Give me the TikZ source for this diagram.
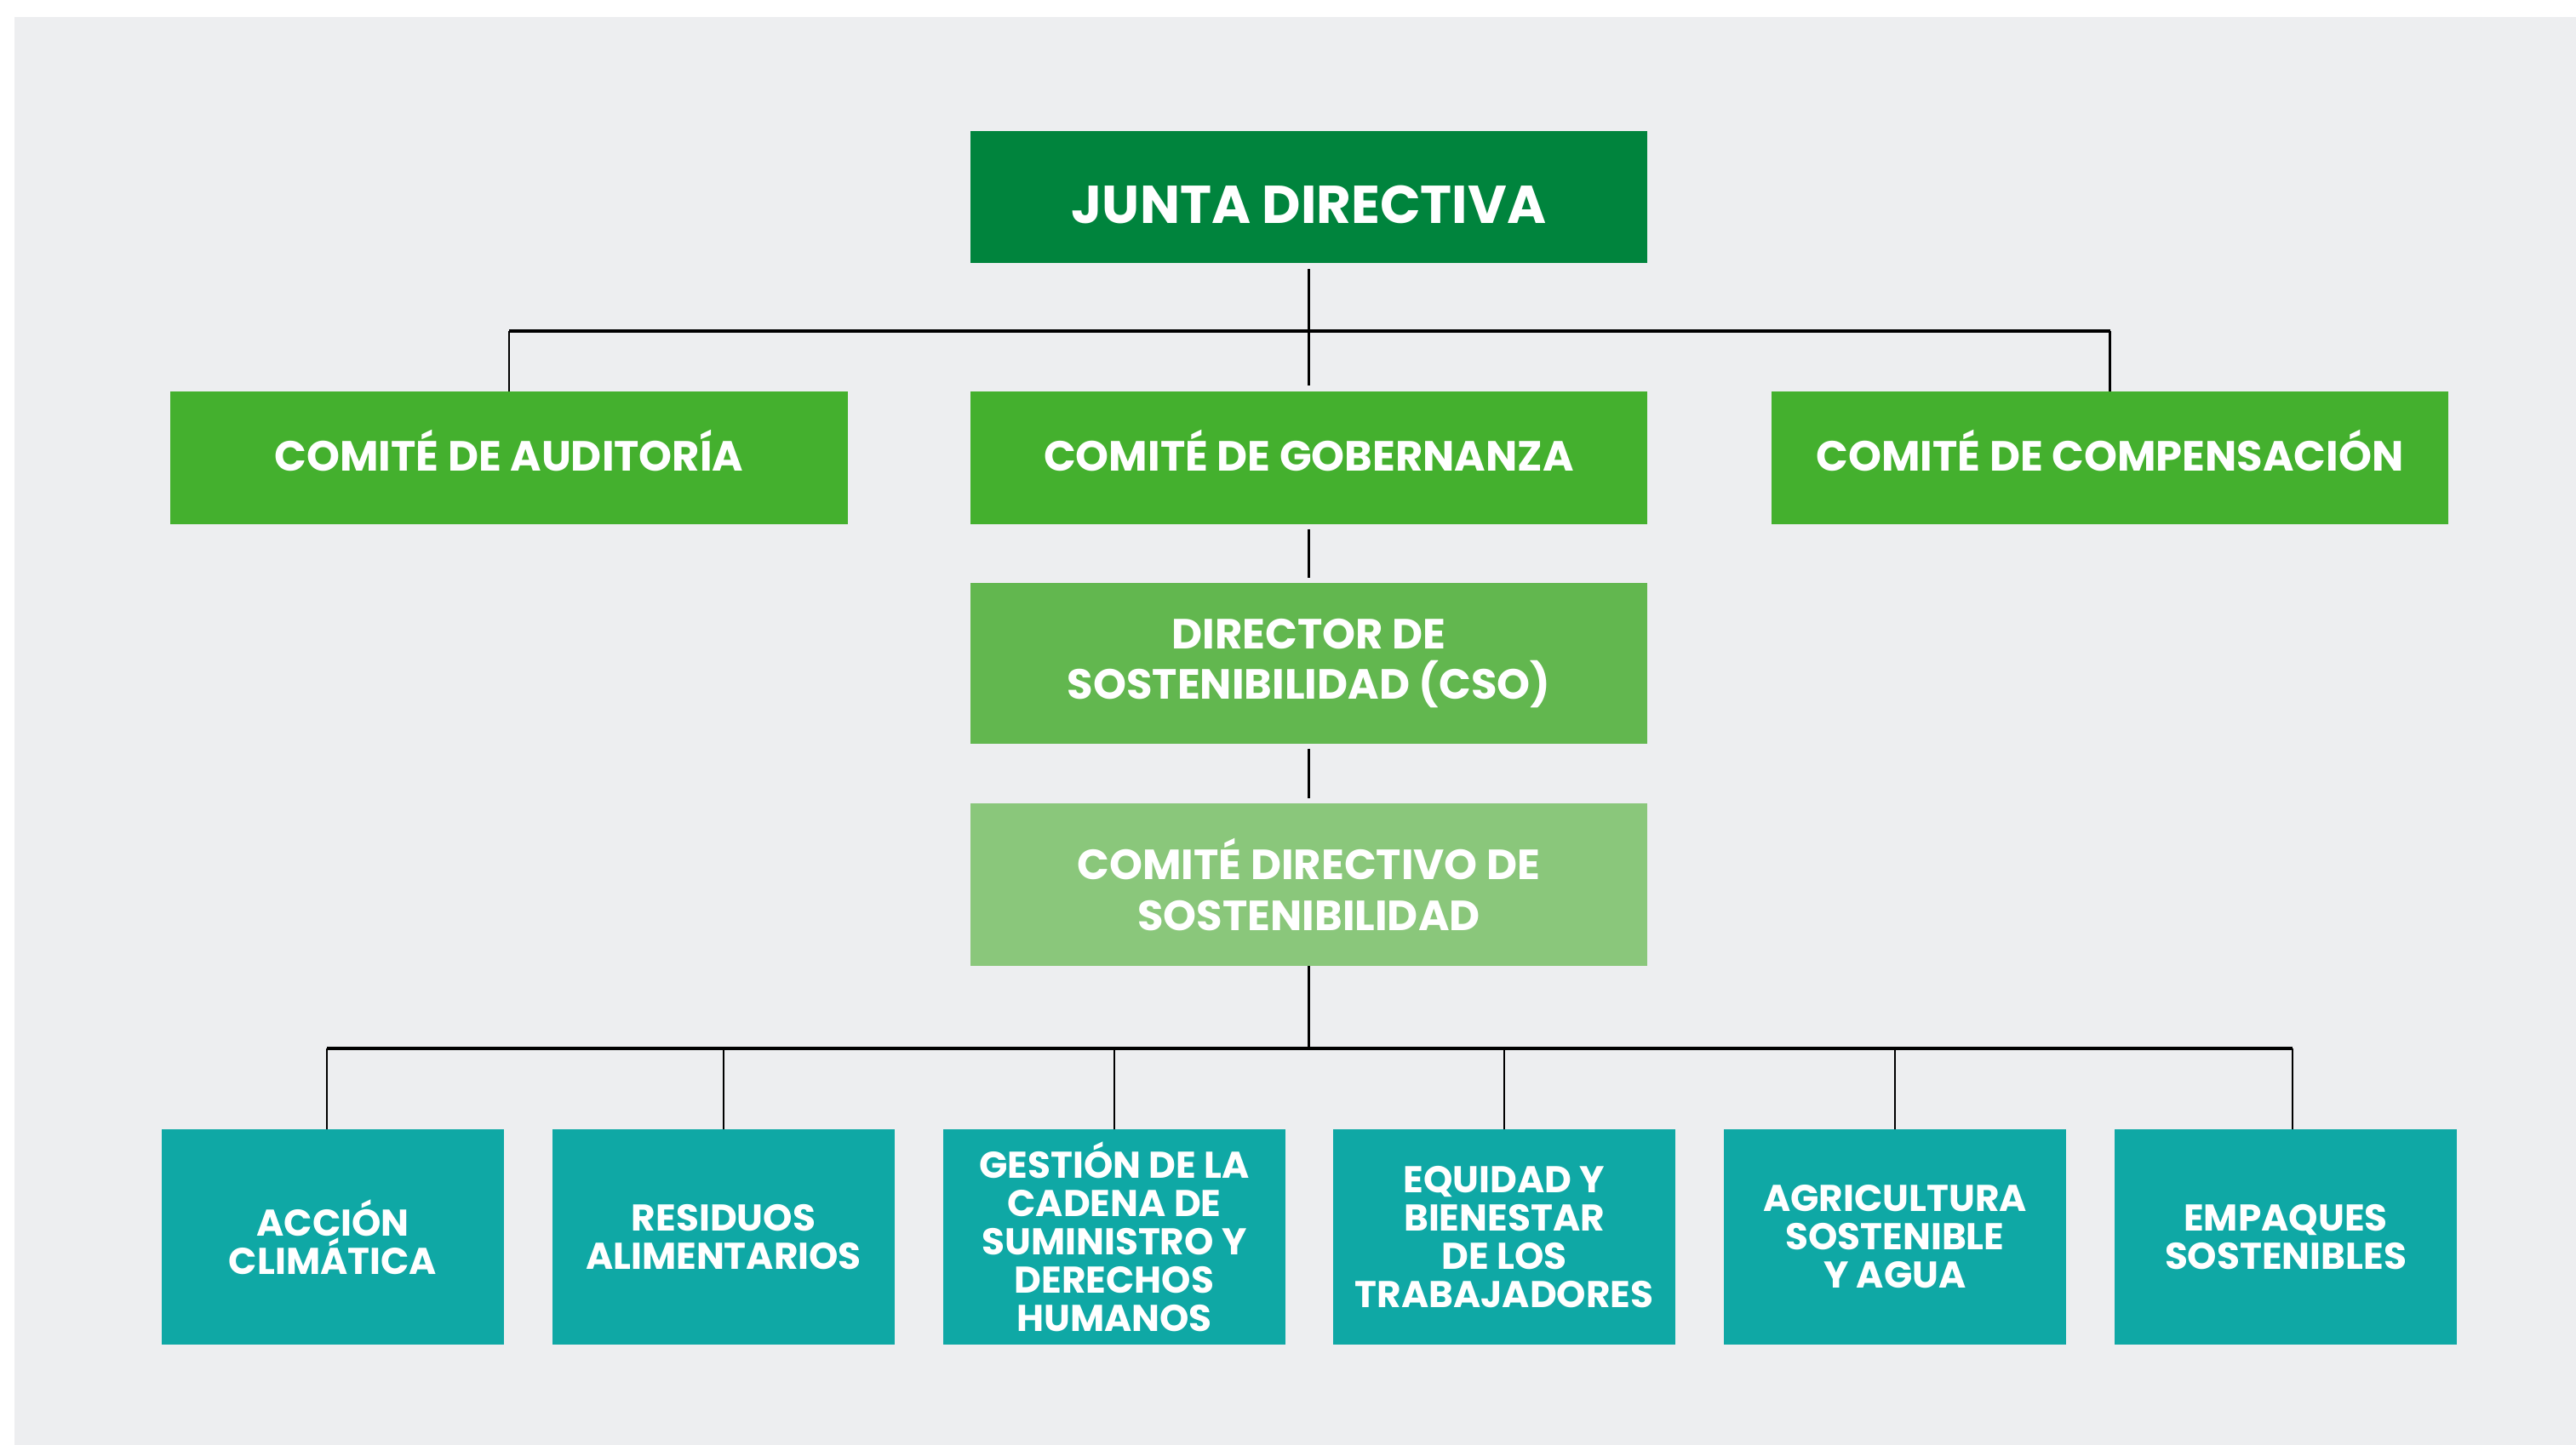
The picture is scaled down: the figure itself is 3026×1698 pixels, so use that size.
\documentclass[tikz,border=0pt]{standalone}
\usepackage{fontspec}
\setmainfont{Poppins}
\definecolor{bggrey}{HTML}{EDEEF0}
\definecolor{juntagreen}{HTML}{00843D}
\definecolor{comitegreen}{HTML}{44B02E}
\definecolor{csogreen}{HTML}{62B74F}
\definecolor{lightgreen}{HTML}{8AC77B}
\definecolor{tealbox}{HTML}{0FA8A5}

\begin{document}
\begin{tikzpicture}[x=0.01cm, y=-0.01cm,
    bigbox/.style={fill=#1, text=white, minimum width=7.95cm, inner sep=0pt, outer sep=0pt,
      align=center, font=\bfseries\fontsize{14.1}{17}\selectfont},
    smallbox/.style={fill=tealbox, text=white, minimum width=4.01cm, minimum height=2.53cm,
      inner sep=0pt, outer sep=0pt, align=center, font=\bfseries\fontsize{12.45}{12.8}\selectfont},
    link/.style={line width=0.6pt, black},
    bus/.style={line width=0.9pt, black}]
		%%%%%%%%%%%%%
		\useasboundingbox (0, 0) rectangle (3026, 1698);
		\fill [bggrey] (17, 20) rectangle (3026, 1698);
		%%%%%%%%%%%%%
		\node [bigbox=juntagreen, minimum height=1.55cm, text height=17.8pt, text depth=0pt,
			font=\bfseries\fontsize{17.8}{20}\selectfont] (junta) at (1537.5, 231.5) {JUNTA DIRECTIVA};
		\node [bigbox=comitegreen, minimum height=1.56cm, text height=9pt, text depth=0pt] (aud) at (598, 538) {COMITÉ DE AUDITORÍA};
		\node [bigbox=comitegreen, minimum height=1.56cm, text height=9pt, text depth=0pt] (gob) at (1537.5, 538) {COMITÉ DE GOBERNANZA};
		\node [bigbox=comitegreen, minimum height=1.56cm, text height=9pt, text depth=0pt] (comp) at (2478.5, 538) {COMITÉ DE COMPENSACIÓN};
		\node [bigbox=csogreen, minimum height=1.89cm] (cso) at (1537.5, 779.5) {DIRECTOR DE\\SOSTENIBILIDAD (CSO)};
		\node [bigbox=lightgreen, minimum height=1.91cm] (cds) at (1537.5, 1039.5) {COMITÉ DIRECTIVO DE\\SOSTENIBILIDAD};
		%%%%%%%%%%%%%
		\node [smallbox] (t1) at (391, 1453.5) {ACCIÓN\\CLIMÁTICA};
		\node [smallbox] (t2) at (850, 1453.5) {RESIDUOS\\ALIMENTARIOS};
		\node [smallbox] (t3) at (1309, 1453.5) {GESTIÓN DE LA\\CADENA DE\\SUMINISTRO Y\\DERECHOS\\HUMANOS};
		\node [smallbox] (t4) at (1767, 1453.5) {EQUIDAD Y\\BIENESTAR\\DE LOS\\TRABAJADORES};
		\node [smallbox] (t5) at (2226, 1453.5) {AGRICULTURA\\SOSTENIBLE\\Y AGUA};
		\node [smallbox] (t6) at (2685, 1453.5) {EMPAQUES\\SOSTENIBLES};
		%%%%%%%%%%%%%
		\coordinate (topbus) at (1537.5, 389);
		\coordinate (lowbus) at (1537.5, 1232);
		\coordinate (drop1) at ([xshift=-0.07cm]t1.north);
		\coordinate (drop6) at ([xshift=0.08cm]t6.north);
		%%%%%%%%%%%%%
		\draw [link, shorten <=2pt, shorten >=2pt] (junta.south) to (gob.north);
		\draw [bus] (aud.north |- topbus) to (comp.north |- topbus);
		\draw [link] (topbus -| aud.north) to (aud.north);
		\draw [link] (topbus -| comp.north) to (comp.north);
		\draw [link, shorten <=1.6pt, shorten >=1.6pt] (gob.south) to (cso.north);
		\draw [link, shorten <=1.6pt, shorten >=1.6pt] (cso.south) to (cds.north);
		\draw [link] (cds.south) to (lowbus);
		\draw [bus] (drop1 |- lowbus) to (drop6 |- lowbus);
		\draw [link] (lowbus -| drop1) to (drop1);
		\draw [link] (lowbus -| drop6) to (drop6);
		\foreach \i in {2, ..., 5}
			\draw [link] (lowbus -| t\i.north) to (t\i.north);
\end{tikzpicture}
\end{document}
